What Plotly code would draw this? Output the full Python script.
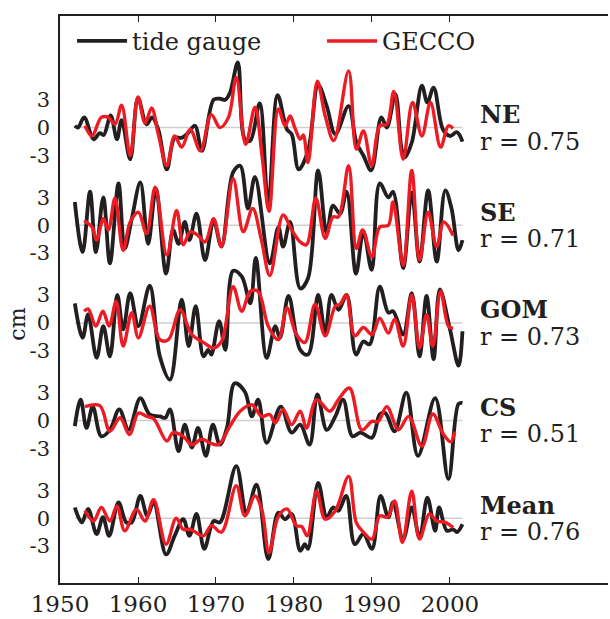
import plotly.graph_objects as go

# ---------------- data (cm anomalies) ----------------
regions = ["NE", "SE", "GOM", "CS", "Mean"]
r_values = ["0.75", "0.71", "0.73", "0.51", "0.76"]
offsets = [42.0, 31.5, 21.0, 10.5, 0.0]

ne_tg_years = [1951.9, 1952.3, 1953.1, 1954.3, 1955.1, 1955.6, 1956.5, 1957.3, 1957.9, 1959.0, 1960.0, 1961.1, 1961.8, 1962.6, 1963.7, 1964.7, 1965.6, 1966.4, 1967.3, 1968.2, 1969.7, 1970.5, 1971.2, 1971.8, 1972.8, 1973.7, 1974.4, 1975.6, 1976.7, 1977.9, 1979.1, 1979.7, 1980.6, 1981.8, 1983.1, 1984.2, 1985.3, 1987.0, 1988.0, 1988.9, 1989.9, 1991.2, 1991.9, 1993.0, 1993.8, 1994.2, 1995.1, 1996.4, 1997.1, 1997.9, 1999.1, 2000.0, 2000.9, 2001.6]
ne_tg = [0.2, 0.0, 1.1, -1.25, -0.6, -0.8, 1.3, -1.25, 0.8, -3.4, 3.2, 0.35, 1.1, -0.2, -4.5, -1.1, -1.1, -0.6, 0.2, -2.5, 3.0, 3.1, 3.0, 3.75, 7.0, -1.25, -1.4, 2.6, -8.3, 3.5, -0.2, -0.7, -4.5, -2.5, 4.6, 2.3, -0.7, 2.3, -1.6, -3.0, -4.6, 1.1, 0.0, 3.6, -2.3, -3.2, -1.6, 4.5, 2.7, 4.3, -0.2, -0.9, -0.5, -1.5]
ne_gecco_years = [1953.2, 1954.1, 1955.3, 1956.2, 1957.05, 1957.9, 1959.0, 1960.0, 1960.9, 1961.75, 1962.6, 1963.7, 1964.7, 1965.6, 1966.7, 1968.0, 1969.4, 1970.5, 1971.6, 1972.6, 1973.8, 1975.0, 1975.9, 1976.8, 1978.0, 1978.85, 1979.5, 1980.1, 1980.8, 1981.2, 1981.8, 1983.0, 1984.0, 1985.1, 1987.0, 1988.0, 1988.9, 1989.96, 1991.0, 1991.9, 1992.8, 1994.0, 1995.2, 1996.4, 1997.5, 1998.8, 1999.8, 2000.4]
ne_gecco = [0.2, -0.9, 1.1, 1.1, 0.35, 2.4, -3.0, 3.3, 0.5, 2.1, -0.7, -4.1, -0.9, -2.1, -0.2, -2.5, 1.4, 0.0, 1.1, 5.4, -1.8, 2.2, -3.0, -9.0, 2.0, 0.2, 1.25, 0.0, -1.25, -0.8, -3.75, 5.0, 1.25, -1.4, 6.1, -2.3, -0.35, -4.1, 0.2, 0.35, 3.9, -3.4, 2.7, -0.9, 2.7, -2.1, 0.2, -0.1]

se_tg_years = [1951.9, 1952.9, 1953.85, 1954.6, 1955.55, 1956.4, 1957.5, 1958.3, 1959.2, 1960.3, 1961.3, 1962.3, 1963.6, 1964.5, 1965.2, 1966.0, 1966.6, 1967.5, 1968.6, 1969.7, 1970.7, 1972.2, 1973.1, 1974.1, 1975.0, 1976.9, 1978.0, 1978.6, 1979.5, 1980.8, 1981.8, 1983.1, 1984.2, 1985.0, 1985.9, 1986.75, 1987.95, 1988.9, 1989.96, 1991.0, 1992.1, 1992.7, 1994.0, 1995.1, 1996.1, 1997.2, 1998.3, 1999.4, 2000.2, 2001.1, 2001.6]
se_tg = [2.5, -2.9, 3.6, -2.9, 3.0, -4.1, 4.5, -2.5, 0.7, 4.6, -2.0, 3.9, -5.2, -0.5, -2.0, 0.35, -1.6, 1.25, -3.75, 0.5, -2.3, 5.7, 6.4, 1.8, 5.2, -4.1, -0.2, -2.3, 0.35, -6.8, -5.7, 5.9, -0.9, 2.1, 1.25, 3.6, -5.2, -0.7, -4.8, 4.5, 3.0, 3.6, -4.6, 3.5, -3.9, 3.75, -3.9, 3.75, 1.8, -2.7, -1.6]
se_gecco_years = [1953.1, 1954.1, 1954.7, 1955.55, 1956.2, 1957.05, 1958.1, 1959.0, 1960.05, 1961.1, 1962.2, 1963.7, 1964.95, 1965.8, 1966.7, 1967.7, 1968.6, 1969.7, 1970.7, 1972.2, 1973.5, 1974.7, 1975.8, 1976.9, 1978.6, 1979.7, 1980.8, 1981.6, 1982.8, 1984.0, 1985.0, 1985.7, 1987.0, 1988.0, 1988.8, 1990.0, 1991.0, 1992.1, 1992.7, 1994.0, 1995.1, 1996.1, 1997.2, 1998.3, 1999.2, 2000.4]
se_gecco = [0.5, -0.2, -1.6, 0.7, -0.5, 2.9, -2.7, 0.35, 1.4, -0.9, 4.1, -3.2, 1.6, -2.1, -0.7, -1.1, -1.8, 0.7, -2.3, 5.0, -0.7, 1.8, -1.5, -5.4, 1.1, -0.5, -1.8, -2.1, 2.9, -1.4, 0.9, 0.9, 6.4, -2.5, -0.5, -3.4, -0.2, 0.0, 2.5, -4.3, 5.9, -3.75, 1.4, -2.3, 0.35, -1.1]

gom_tg_years = [1951.9, 1952.9, 1953.6, 1954.7, 1955.55, 1956.4, 1957.35, 1958.1, 1959.0, 1960.05, 1961.5, 1962.8, 1964.1, 1965.6, 1966.5, 1967.4, 1968.4, 1969.0, 1969.4, 1970.4, 1971.2, 1972.2, 1973.3, 1974.4, 1975.1, 1976.5, 1977.6, 1978.2, 1979.3, 1980.8, 1981.8, 1983.1, 1984.0, 1984.8, 1985.7, 1986.75, 1987.95, 1988.9, 1989.7, 1991.0, 1992.1, 1992.7, 1994.0, 1995.1, 1996.1, 1997.0, 1997.9, 1998.7, 2000.0, 2001.1, 2001.6]
gom_tg = [2.1, -1.6, 0.9, -3.75, -0.35, -3.6, 3.0, -0.7, 3.2, -0.35, 4.0, -3.6, -6.1, 2.5, -2.5, 1.8, -3.6, -2.9, -3.4, 0.2, -2.9, 5.6, 5.0, 2.1, 7.0, -3.75, -0.35, -1.6, 2.9, -2.9, -3.4, 3.0, -1.1, 3.0, 1.4, 3.0, -3.4, -2.0, -2.3, 3.9, 1.1, 1.25, -1.25, 3.2, -3.6, 2.9, -3.9, 3.6, -0.7, -4.6, -0.9]
gom_gecco_years = [1953.1, 1953.6, 1954.6, 1955.5, 1956.3, 1957.2, 1958.1, 1959.2, 1960.05, 1961.5, 1962.8, 1963.9, 1965.4, 1966.9, 1968.4, 1969.7, 1970.7, 1972.2, 1973.3, 1974.4, 1975.4, 1976.7, 1978.0, 1979.1, 1980.3, 1981.4, 1982.7, 1984.0, 1985.3, 1985.9, 1986.7, 1987.8, 1988.9, 1990.0, 1991.0, 1992.1, 1992.9, 1994.0, 1995.1, 1996.1, 1997.0, 1997.8, 1998.8, 1999.8, 2000.4]
gom_gecco = [1.25, 1.5, -0.35, 1.25, -0.35, 2.3, -2.5, 1.1, -1.6, 1.8, -1.8, -1.8, 1.4, -1.25, -2.1, -2.7, -2.0, 3.9, 1.25, 3.4, 3.4, -0.35, -1.8, 1.6, -1.25, -2.1, 2.0, -1.4, 1.8, 2.0, 3.0, -1.4, -0.5, -1.25, 0.5, -1.1, 0.4, -2.5, 3.0, -2.7, 0.9, -2.5, 3.4, -0.35, -0.6]

cs_tg_years = [1951.9, 1952.65, 1953.4, 1954.2, 1955.3, 1956.4, 1957.6, 1958.8, 1960.3, 1961.5, 1962.8, 1963.5, 1964.1, 1965.2, 1966.0, 1966.9, 1967.7, 1968.7, 1969.6, 1970.5, 1971.4, 1972.4, 1973.7, 1974.6, 1975.4, 1976.5, 1978.3, 1979.7, 1980.8, 1982.0, 1983.0, 1984.2, 1985.3, 1986.3, 1987.5, 1988.5, 1990.0, 1991.0, 1991.7, 1992.9, 1994.4, 1995.9, 1998.1, 1999.8, 2001.1, 2001.6]
cs_tg = [-0.6, 2.25, -0.8, 1.5, -1.7, -1.0, 1.2, -1.0, 2.4, 0.65, 0.45, 0.3, 1.2, -3.3, -0.45, -2.9, -0.8, -3.8, -0.45, -2.6, -0.8, 4.0, 3.1, 0.45, 2.25, -2.4, 1.5, -1.3, -0.45, -2.6, 2.8, -1.0, 0.45, 2.25, -1.7, -1.3, -1.85, 0.65, 0.8, -1.15, 3.0, -3.8, 2.4, -6.3, 1.8, 1.9]
cs_gecco_years = [1953.2, 1955.1, 1956.4, 1957.7, 1958.9, 1960.05, 1961.1, 1962.0, 1963.7, 1964.5, 1965.8, 1966.9, 1968.2, 1969.2, 1970.3, 1971.8, 1973.1, 1974.6, 1975.85, 1976.9, 1977.6, 1978.6, 1979.7, 1980.8, 1981.6, 1982.9, 1984.6, 1985.7, 1987.1, 1988.7, 1990.0, 1990.8, 1991.9, 1993.4, 1994.7, 1996.4, 1997.8, 1999.1, 2000.1, 2000.6]
cs_gecco = [1.5, 1.6, -1.15, 0.3, -1.5, 0.8, 0.45, 0.2, -2.2, -1.3, -1.7, -2.6, -2.0, -2.4, -2.6, -0.6, 1.0, 1.7, 0.45, 0.65, -0.25, 1.2, -0.45, 1.0, -0.8, 2.25, 1.0, 2.25, 3.5, -1.0, -0.1, -0.1, 1.5, -1.0, 0.45, -2.75, 0.7, -1.4, -2.3, -1.2]

mean_tg_years = [1951.9, 1952.8, 1953.6, 1954.7, 1955.5, 1956.3, 1957.5, 1958.5, 1959.2, 1960.3, 1961.2, 1962.0, 1963.6, 1964.7, 1965.8, 1966.6, 1967.5, 1968.5, 1969.7, 1970.5, 1972.6, 1973.9, 1975.2, 1976.7, 1978.0, 1978.85, 1979.7, 1980.8, 1981.4, 1981.8, 1983.1, 1984.2, 1985.0, 1985.7, 1986.7, 1987.8, 1988.9, 1990.0, 1991.1, 1992.1, 1992.7, 1994.0, 1995.1, 1996.1, 1997.1, 1998.1, 1998.6, 1999.6, 2000.4, 2000.9, 2001.6]
mean_tg = [1.15, -0.45, 1.0, -1.7, 0.1, -1.9, 1.7, -0.45, -0.45, 2.4, 0.25, 1.7, -3.9, -1.9, -0.1, -1.9, 0.45, -3.3, -0.3, -0.45, 5.6, 0.6, 3.6, -4.4, 0.6, -0.1, 0.45, -3.5, -2.8, -3.3, 3.8, 0.1, 1.15, 0.8, 2.4, -2.8, -1.7, -3.3, 2.4, 0.1, 1.7, -2.25, 1.15, -2.1, 2.2, -1.35, 1.15, -1.35, -1.2, -1.5, -0.65]
mean_gecco_years = [1953.2, 1954.3, 1955.3, 1956.4, 1957.3, 1958.3, 1959.8, 1960.9, 1962.0, 1963.6, 1964.9, 1965.8, 1966.7, 1968.4, 1969.4, 1970.7, 1972.6, 1973.7, 1975.0, 1975.9, 1976.8, 1978.0, 1979.1, 1980.3, 1981.0, 1981.7, 1982.9, 1984.0, 1985.3, 1987.0, 1988.0, 1988.9, 1990.0, 1991.0, 1992.0, 1992.9, 1993.9, 1995.1, 1996.1, 1997.35, 1998.3, 1999.4, 2000.4]
mean_gecco = [0.8, -0.3, 1.15, -0.3, 1.3, -1.35, 0.95, -0.3, 2.0, -2.8, 0.0, -1.2, -1.2, -1.9, -0.8, -1.5, 3.5, 0.25, 2.4, 0.8, -3.7, 0.2, 1.0, -0.8, -0.9, -1.9, 2.9, -0.1, 0.8, 4.5, -0.5, -1.5, -2.25, 0.25, 0.1, 1.85, -2.6, 2.9, -2.25, 0.45, -0.3, -0.45, -1.0]

x_ticks = [1950, 1960, 1970, 1980, 1990, 2000]
y_tick_levels = [-3, 0, 3]
y_tick_labels = ["-3", "0", "3"]

tg_series = [(ne_tg_years, ne_tg), (se_tg_years, se_tg), (gom_tg_years, gom_tg),
             (cs_tg_years, cs_tg), (mean_tg_years, mean_tg)]
gecco_series = [(ne_gecco_years, ne_gecco), (se_gecco_years, se_gecco), (gom_gecco_years, gom_gecco),
                (cs_gecco_years, cs_gecco), (mean_gecco_years, mean_gecco)]

BLACK = "#231f20"
RED = "#ed1c24"
FONT = "DejaVu Serif"

fig = go.Figure()

# zero reference lines (gray), spanning the data period
x_start = min(min(y) for y, _ in tg_series)
x_end = max(max(y) for y, _ in tg_series)
for off in offsets:
    fig.add_shape(type="line", xref="x", yref="y", x0=x_start, x1=x_end, y0=off, y1=off,
                  line=dict(color="#cfcfcf", width=1.5), layer="below")

for i, (name, off) in enumerate(zip(regions, offsets)):
    yrs, vals = tg_series[i]
    fig.add_trace(go.Scatter(x=yrs, y=[v + off for v in vals], mode="lines",
                             line=dict(color=BLACK, width=3.8, shape="spline", smoothing=1.0),
                             name="tide gauge", legendgroup="tg", showlegend=(i == 0),
                             hoverinfo="skip"))
for i, (name, off) in enumerate(zip(regions, offsets)):
    yrs, vals = gecco_series[i]
    fig.add_trace(go.Scatter(x=yrs, y=[v + off for v in vals], mode="lines",
                             line=dict(color=RED, width=3.4, shape="spline", smoothing=1.0),
                             name="GECCO", legendgroup="gecco", showlegend=(i == 0),
                             hoverinfo="skip"))

# region labels and correlations
for name, rv, off in zip(regions, r_values, offsets):
    fig.add_annotation(x=2003.6, y=off + 1.4, xref="x", yref="y", text="<b>" + name + "</b>",
                       showarrow=False, xanchor="left", yanchor="middle",
                       font=dict(family=FONT, size=24, color="#231f20"))
    fig.add_annotation(x=2003.6, y=off - 1.5, xref="x", yref="y", text="r = " + rv,
                       showarrow=False, xanchor="left", yanchor="middle",
                       font=dict(family=FONT, size=24, color="#231f20"))

# y-axis label
fig.add_annotation(x=-0.077, y=0.457, xref="paper", yref="paper", text="cm", textangle=-90,
                   showarrow=False, xanchor="center", yanchor="middle",
                   font=dict(family=FONT, size=22, color="#231f20"))

tickvals = []
ticktext = []
for off in offsets:
    for lvl, lab in zip(y_tick_levels, y_tick_labels):
        tickvals.append(off + lvl)
        ticktext.append(lab)

fig.update_layout(
    width=610, height=619,
    margin=dict(l=60, r=2, t=16, b=34),
    plot_bgcolor="white", paper_bgcolor="white",
    font=dict(family=FONT, color="#231f20"),
    showlegend=True,
    legend=dict(orientation="h", x=0.022, y=0.995, xanchor="left", yanchor="top",
                bgcolor="rgba(0,0,0,0)", font=dict(family=FONT, size=24),
                itemwidth=50, entrywidth=185, entrywidthmode="pixels"),
    xaxis=dict(range=[1950, 2020.26], tickvals=x_ticks, ticktext=[str(t) for t in x_ticks],
               ticks="inside", ticklen=6, tickwidth=1.2, tickcolor="#231f20",
               showline=True, linecolor="#231f20", linewidth=1.5, mirror="ticks",
               showgrid=False, zeroline=False,
               tickfont=dict(family=FONT, size=23, color="#231f20")),
    yaxis=dict(range=[-6.97, 54.0], tickvals=tickvals, ticktext=ticktext,
               ticks="", showline=True, linecolor="#231f20", linewidth=1.5, mirror=False,
               showgrid=False, zeroline=False, ticklabelstandoff=4,
               tickfont=dict(family=FONT, size=21, color="#231f20")),
)

fig.write_html("out.html", config={"displayModeBar": False},
               post_script="document.body.style.margin='0px';")
